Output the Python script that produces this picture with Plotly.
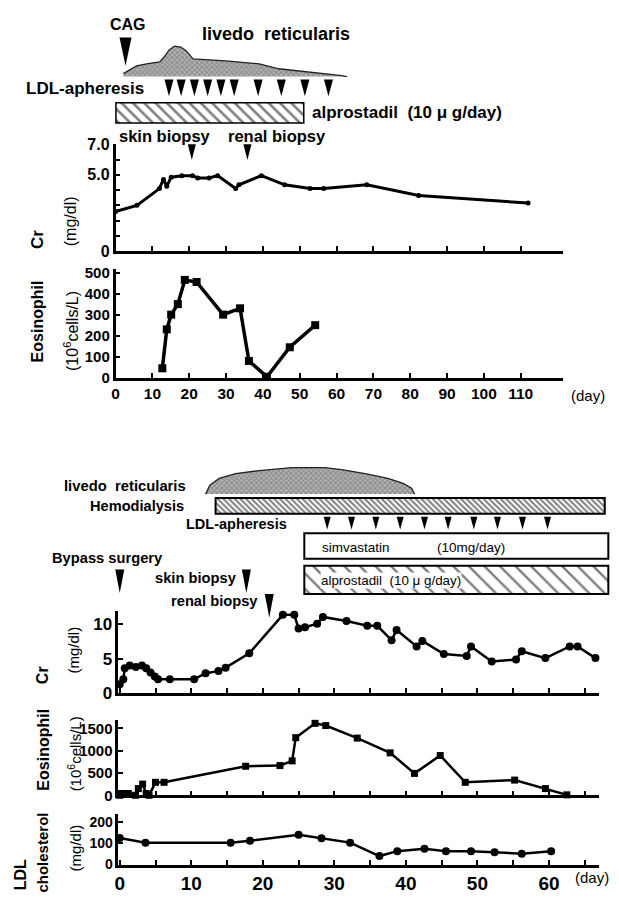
import plotly.graph_objects as go

W, H = 619, 903
FONT = "Liberation Sans, Arial, sans-serif"

# ---------------- Case 1 (CAG, days 0-110) ----------------
cr_a_day = [0, 5.8, 11.9, 13.0, 13.9, 15.1, 18.0, 20.9, 22.3, 25.4, 27.7, 32.6, 33.5,
            39.6, 45.9, 52.8, 56.5, 68.2, 82.3, 112.0]
cr_a_val = [2.6, 3.0, 4.1, 4.7, 4.25, 4.85, 4.95, 4.95, 4.8, 4.8, 4.95, 4.1, 4.35,
            4.95, 4.35, 4.1, 4.1, 4.35, 3.65, 3.15]

eos_a_day = [12.7, 13.9, 15.1, 16.9, 18.8, 22.0, 29.2, 33.8, 36.2, 41.1, 47.3, 54.2]
eos_a_val = [45, 230, 300, 350, 465, 455, 300, 330, 80, 5, 145, 250]

cag_day = [2.7]
ldl_a_days = [14.5, 17.8, 21.4, 25.0, 28.6, 32.2, 38.7, 45.0, 51.4, 57.8]
skin_a_day = [20.7]
renal_a_day = [35.8]
alpro_a_span = [0.1, 51.1]
livedo_a_day = [2.1, 5.7, 8.4, 12.0, 13.4, 14.5, 16.0, 17.7, 19.3, 21.0, 29.9, 39.0, 44.3, 52.4, 61.4, 62.8]
livedo_a_height = [3, 11, 13, 15, 21, 27, 31, 30, 26, 18, 16, 13, 8, 5, 1, 0]

ticks_a_x = list(range(0, 111, 10))
ticks_a_cr = [0, 5, 7]
ticktext_a_cr = ["0", "5.0", "7.0"]
ticks_a_eos = [0, 100, 200, 300, 400, 500]

# ---------------- Case 2 (bypass surgery, days 0-60) ----------------
cr_b_day = [0, 0.5, 0.7, 1.4, 2.25, 3.1, 3.7, 4.3, 4.9, 5.35, 7.0, 10.4, 12.0, 13.8, 14.8,
            18.1, 22.8, 24.4, 25.0, 25.9, 27.6, 28.4, 31.7, 34.6, 36.0, 38.0, 38.7, 41.5,
            42.3, 45.3, 48.5, 49.1, 52.0, 55.4, 56.2, 59.5, 62.9, 64.0, 66.5]
cr_b_val = [1.3, 2.0, 3.6, 4.0, 3.8, 4.0, 3.6, 3.0, 2.4, 2.0, 2.0, 2.0, 2.9, 3.2, 3.7,
            5.8, 11.4, 11.4, 9.4, 9.6, 10.1, 11.1, 10.5, 9.8, 9.8, 7.7, 9.2, 6.8,
            7.6, 5.7, 5.4, 6.8, 4.6, 4.9, 6.1, 5.1, 6.8, 6.8, 5.1]

eos_b_day = [0, 0.2, 0.7, 1.2, 2.2, 2.6, 3.2, 3.7, 4.1, 5.0, 6.2, 17.6, 22.4, 24.1, 24.6,
             27.3, 28.8, 33.2, 37.8, 41.2, 44.8, 48.3, 55.2, 59.5, 62.5]
eos_b_val = [0, 40, 40, 40, 0, 150, 250, 40, 0, 290, 290, 650, 665, 770, 1290, 1610,
             1560, 1280, 950, 490, 890, 290, 340, 150, 10]

ldl_b_day = [0, 3.6, 15.5, 18.2, 25.0, 28.2, 32.2, 36.3, 38.8, 42.6, 45.6, 49.1, 52.4, 56.2, 60.3]
ldl_b_val = [125, 103, 103, 112, 140, 123, 103, 40, 63, 74, 63, 63, 58, 51, 63]

bypass_day = [0]
skin_b_day = [17.7]
renal_b_day = [20.9]
ldl_b_days = [29.0, 32.4, 35.8, 39.2, 42.6, 45.9, 49.5, 52.8, 56.3, 59.8]
hemo_span = [13.4, 67.8]
simva_span = [25.8, 68.3]
alpro_b_span = [25.8, 68.3]
livedo_b_day = [12.0, 12.6, 13.9, 16.2, 19.5, 24.1, 28.7, 31.0, 34.3, 37.5, 39.6, 40.8, 41.2]
livedo_b_height = [0, 9, 16, 21, 24, 27, 27, 25, 21, 16, 11, 6, 0]

ticks_b_x = list(range(0, 61, 10))
ticks_b_cr = [0, 5, 10]
ticks_b_eos = [0, 500, 1000, 1500]
ticks_b_ldl = [0, 100, 200]

# ---------------- pixel geometry of the panels ----------------
A_X0, A_PPD, A_XMAX = 112.3, 3.707, 121.5      # upper case: day 0 position, px per day
B_X0, B_PPD, B_XMIN, B_XMAX = 116.5, 7.2, -0.2, 67.0


def xdom(p0, p1):
    return [p0 / W, p1 / W]


def ydom(top, bottom):
    return [1 - bottom / H, 1 - top / H]


fig = go.Figure()

LINE = dict(color="black", width=3)
TICK = dict(ticks="inside", ticklen=5, tickwidth=2, tickcolor="black")
common = dict(showline=True, linecolor="black", linewidth=2.5, showgrid=False,
              zeroline=False, mirror=False, **TICK)
minor_b_x = dict(tickmode="linear", tick0=0, dtick=5, **TICK)

a_xd = xdom(A_X0, A_X0 + A_PPD * A_XMAX)
b_xd = xdom(B_X0 + B_PPD * B_XMIN, B_X0 + B_PPD * B_XMAX)


def bold(size):
    return dict(size=size, family=FONT, weight="bold", color="black")


layout = dict(
    width=W, height=H, margin=dict(l=0, r=0, t=0, b=0),
    paper_bgcolor="white", plot_bgcolor="rgba(0,0,0,0)",
    font=dict(family=FONT, color="black"), showlegend=False, barmode="overlay",
    # upper case: creatinine
    xaxis=dict(common, domain=a_xd, range=[0, A_XMAX], anchor="y", tickvals=ticks_a_x,
               showticklabels=False),
    yaxis=dict(common, domain=ydom(138.4, 248), range=[0, 7.05], anchor="x",
               tickvals=ticks_a_cr, ticktext=ticktext_a_cr, tickfont=bold(16),
               minor=dict(tickmode="linear", tick0=0, dtick=1, **TICK)),
    # upper case: eosinophil
    xaxis2=dict(common, domain=a_xd, range=[0, A_XMAX], anchor="y2", tickvals=ticks_a_x,
                tickfont=bold(15.5)),
    yaxis2=dict(common, domain=ydom(266.7, 377.3), range=[0, 515], anchor="x2",
                tickvals=ticks_a_eos, tickfont=bold(15)),
    # lower case: creatinine
    xaxis3=dict(common, domain=b_xd, range=[B_XMIN, B_XMAX], anchor="y3", tickvals=ticks_b_x,
                showticklabels=False, minor=minor_b_x),
    yaxis3=dict(common, domain=ydom(615, 699), range=[0, 12], anchor="x3",
                tickvals=ticks_b_cr, tickfont=bold(17)),
    # lower case: eosinophil
    xaxis4=dict(common, domain=b_xd, range=[B_XMIN, B_XMAX], anchor="y4", tickvals=ticks_b_x,
                showticklabels=False, minor=minor_b_x),
    yaxis4=dict(common, domain=ydom(726.7, 803.3), range=[0, 1680], anchor="x4",
                tickvals=ticks_b_eos, tickfont=bold(15)),
    # lower case: LDL cholesterol
    xaxis5=dict(common, domain=b_xd, range=[B_XMIN, B_XMAX], anchor="y5", tickvals=ticks_b_x,
                tickfont=bold(19), minor=minor_b_x),
    yaxis5=dict(common, domain=ydom(822.7, 874), range=[0, 236], anchor="x5",
                tickvals=ticks_b_ldl, tickfont=bold(14)),
    # full-page day axes for the treatment timelines, plus a pixel-valued y axis
    xaxis6=dict(domain=[0, 1], range=[-A_X0 / A_PPD, (W - A_X0) / A_PPD], visible=False,
                anchor="y8"),
    xaxis7=dict(domain=[0, 1], range=[-B_X0 / B_PPD, (W - B_X0) / B_PPD], visible=False,
                anchor="y8"),
    yaxis8=dict(domain=[0, 1], range=[H, 0], visible=False, anchor="x6"),
)
fig.update_layout(**layout)

# ---- data series ----
fig.add_trace(go.Scatter(x=cr_a_day, y=cr_a_val, xaxis="x", yaxis="y", mode="lines+markers",
                         line=LINE, marker=dict(symbol="circle", size=5, color="black"),
                         cliponaxis=False))
fig.add_trace(go.Scatter(x=eos_a_day, y=eos_a_val, xaxis="x2", yaxis="y2", mode="lines+markers",
                         line=dict(color="black", width=3.5),
                         marker=dict(symbol="square", size=8, color="black"), cliponaxis=False))
fig.add_trace(go.Scatter(x=cr_b_day, y=cr_b_val, xaxis="x3", yaxis="y3", mode="lines+markers",
                         line=dict(color="black", width=2.5),
                         marker=dict(symbol="circle", size=8, color="black"), cliponaxis=False))
fig.add_trace(go.Scatter(x=eos_b_day, y=eos_b_val, xaxis="x4", yaxis="y4", mode="lines+markers",
                         line=dict(color="black", width=2.5),
                         marker=dict(symbol="square", size=7, color="black"), cliponaxis=False))
fig.add_trace(go.Scatter(x=ldl_b_day, y=ldl_b_val, xaxis="x5", yaxis="y5", mode="lines+markers",
                         line=dict(color="black", width=2.5),
                         marker=dict(symbol="circle", size=8, color="black"), cliponaxis=False))

# ---- livedo reticularis outlines (height in px above a baseline) ----
LIVEDO_PATTERN = dict(shape="x", fgcolor="#555555", bgcolor="#b8b8b8", size=3.5, solidity=0.5)


def livedo(days, heights, base, xa):
    ys = [base - h for h in heights]
    fig.add_trace(go.Scatter(x=days + [days[-1], days[0]], y=ys + [base, base], xaxis=xa,
                             yaxis="y8", mode="lines", fill="toself", fillcolor="#8f8f8f",
                             fillpattern=LIVEDO_PATTERN, line=dict(width=0), hoverinfo="skip"))
    fig.add_trace(go.Scatter(x=days, y=ys, xaxis=xa, yaxis="y8", mode="lines",
                             line=dict(color="#222", width=1.3), hoverinfo="skip"))


livedo(livedo_a_day, livedo_a_height, 70, "x6")
livedo(livedo_b_day, livedo_b_height, 496, "x7")


# ---- treatment bars ----
def span_bar(span, top, bottom, xa, pattern=None, lw=1.5):
    marker = dict(color="white", line=dict(color="black", width=lw))
    if pattern:
        marker["pattern"] = pattern
    fig.add_trace(go.Bar(orientation="h", base=[span[0]], x=[span[1] - span[0]],
                         y=[(top + bottom) / 2], width=[bottom - top], xaxis=xa, yaxis="y8",
                         marker=marker, hoverinfo="skip"))


span_bar(alpro_a_span, 96.7, 117.3, "x6",
         dict(shape="\\", fgcolor="black", bgcolor="white", size=8, solidity=0.32))
span_bar(hemo_span, 500, 516, "x7",
         dict(shape="\\", fgcolor="black", bgcolor="white", size=4, solidity=0.5), lw=2)
span_bar(simva_span, 536, 562, "x7", lw=2)
span_bar(alpro_b_span, 569, 598, "x7",
         dict(shape="\\", fgcolor="black", bgcolor="white", size=11, solidity=0.22), lw=2)

# ---- event arrowheads ----
shapes = []


def arrows(days, top, tip, half, xa):
    for d in days:
        shapes.append(dict(type="path", xref=xa, yref="y8", xsizemode="pixel", xanchor=d,
                           path=f"M{-half},{top} L{half},{top} L0,{tip} Z",
                           fillcolor="black", line=dict(width=0)))


arrows(cag_day, 30, 59, 6, "x6")
arrows(ldl_a_days, 73, 90, 4.5, "x6")
arrows(skin_a_day, 139, 155, 4, "x6")
arrows(renal_a_day, 139, 155, 4, "x6")
arrows(bypass_day, 573, 597, 4.5, "x7")
arrows(skin_b_day, 573, 597, 4.5, "x7")
arrows(renal_b_day, 598, 622, 4.5, "x7")
arrows(ldl_b_days, 519, 532, 3.5, "x7")
fig.update_layout(shapes=shapes)

# ---- text ----
anns = []


def txt(s, px, py, size, is_bold=True, xanchor="center", angle=0, bg=None):
    a = dict(text=f"<b>{s}</b>" if is_bold else s, x=px / W, y=1 - py / H, xref="paper",
             yref="paper", showarrow=False, xanchor=xanchor, yanchor="middle",
             textangle=angle, font=dict(size=size, family=FONT, color="black"))
    if bg:
        a["bgcolor"] = bg
        a["borderpad"] = 0
    anns.append(a)


# upper case
txt("CAG", 125, 17, 16)
txt("livedo  reticularis", 197, 27, 18, xanchor="left")
txt("LDL-apheresis", 143, 82, 17, xanchor="right")
txt("alprostadil  (10 \u03bc g/day)", 308, 107, 17, xanchor="left")
txt("skin biopsy", 162, 131, 16.5)
txt("renal biopsy", 275, 131, 16.5)
txt("Cr", 34, 236, 17, angle=-90)
txt("(mg/dl)", 67, 218, 16, is_bold=False, angle=-90)
txt("Eosinophil", 34, 320, 16, angle=-90)
txt("(10<sup>6</sup>cells/L)", 68, 330, 16, is_bold=False, angle=-90)
txt("(day)", 588, 395, 15, is_bold=False)

# lower case
txt("livedo  reticularis", 185, 488, 14.8, xanchor="right")
txt("Hemodialysis", 183, 508, 14.6, xanchor="right")
txt("LDL-apheresis", 287, 526, 14.5, xanchor="right")
txt("simvastatin", 318, 550, 13.5, is_bold=False, xanchor="left")
txt("(10mg/day)", 470, 550, 13.5, is_bold=False)
txt("alprostadil  (10 \u03bc g/day)", 318, 584, 13.4, is_bold=False, xanchor="left", bg="white")
txt("Bypass surgery", 104, 561, 14.7)
txt("skin biopsy", 237, 582, 14.7, xanchor="right")
txt("renal biopsy", 258, 605, 14.7, xanchor="right")
txt("Cr", 39, 681, 16, angle=-90)
txt("(mg/dl)", 70, 655, 15, is_bold=False, angle=-90)
txt("Eosinophil", 40, 757, 16, angle=-90)
txt("(10<sup>6</sup>cells/L)", 71, 761, 15, is_bold=False, angle=-90)
txt("LDL", 16, 884, 16, angle=-90)
txt("cholesterol", 39, 862, 15, angle=-90)
txt("(mg/dl)", 72, 857, 15, is_bold=False, angle=-90)
txt("(day)", 592, 887, 15, is_bold=False)

fig.update_layout(annotations=anns)
fig.write_html("out.html")
